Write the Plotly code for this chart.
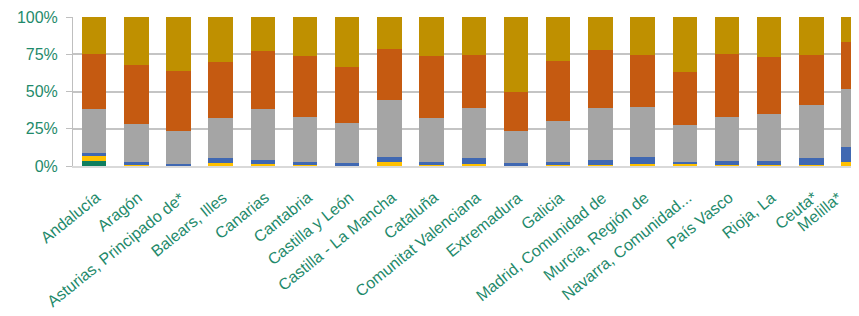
import plotly.graph_objects as go

categories = ["Andalucía", "Aragón", "Asturias, Principado de*", "Balears, Illes", "Canarias",
              "Cantabria", "Castilla y León", "Castilla - La Mancha", "Cataluña",
              "Comunitat Valenciana", "Extremadura", "Galicia", "Madrid, Comunidad de",
              "Murcia, Región de", "Navarra, Comunidad...", "País Vasco", "Rioja, La",
              "Ceuta*", "Melilla*"]

s_green = [3.4, 0, 0, 0, 0, 0, 0, 0, 0, 0, 0, 0, 0, 0, 0, 0, 0, 0, 0]
s_yellow = [3.3, 1.0, 0.3, 2.0, 1.3, 0.9, 0.3, 2.4, 1.0, 1.5, 0.3, 1.0, 1.0, 1.6, 1.4, 1.0, 1.0, 1.0, 2.5]
s_blue = [2.1, 1.5, 1.0, 3.4, 2.5, 2.0, 1.5, 3.6, 1.4, 3.8, 1.5, 2.0, 2.8, 4.4, 1.6, 2.1, 2.1, 4.4, 10.1]
s_gray = [29.2, 25.5, 22.4, 27.0, 34.6, 30.0, 27.0, 38.0, 30.0, 33.9, 21.6, 27.1, 34.9, 33.3, 24.3, 29.9, 32.0, 35.3, 38.9]
s_orange = [37.3, 39.5, 39.6, 37.5, 38.5, 41.0, 37.7, 34.7, 41.5, 35.3, 26.3, 40.5, 39.3, 35.3, 35.5, 42.3, 38.2, 33.9, 31.4]
s_gold = [24.7, 32.5, 36.4, 30.1, 23.1, 26.1, 33.5, 21.3, 26.1, 25.5, 50.3, 29.4, 22.0, 25.4, 37.1, 24.7, 26.7, 25.4, 17.1]

series = [
    ("s1", s_green, "#0F7E5E"),
    ("s2", s_yellow, "#FFC000"),
    ("s3", s_blue, "#4068B2"),
    ("s4", s_gray, "#A5A5A5"),
    ("s5", s_orange, "#C55A11"),
    ("s6", s_gold, "#BF9000"),
]

fig = go.Figure()
for name, vals, col in series:
    fig.add_trace(go.Bar(x=categories, y=vals, name=name, marker=dict(color=col, line=dict(width=0))))

text_col = "#1F8A6B"
font_family = "Liberation Sans, Arial, sans-serif"

# category labels as rotated annotations (so the last one can be nudged inside, like the original)
for i, cat in enumerate(categories):
    fig.add_annotation(
        x=cat, y=0, xref="x", yref="paper",
        text=cat, showarrow=False, textangle=-39,
        xanchor="right", yanchor="top",
        xshift=(-5 if i == len(categories) - 1 else 12), yshift=-20,
        font=dict(family=font_family, size=16, color=text_col),
    )

# the page body keeps an 8px margin, so the figure is 8px smaller than the window
fig.update_layout(
    barmode="stack",
    barnorm="percent",
    bargap=0.42,
    width=851, height=308,
    margin=dict(l=65, r=0, t=9, b=150),
    paper_bgcolor="white", plot_bgcolor="white",
    showlegend=False,
    font=dict(family=font_family, size=16, color=text_col),
)
fig.update_xaxes(
    range=[-0.5, 18.13],
    showticklabels=False,
    showline=True, linecolor="#D9D9D9", linewidth=2,
    ticks="", showgrid=False, automargin=False,
)
fig.update_yaxes(
    range=[0, 100],
    tickvals=[0, 25, 50, 75, 100],
    ticktext=["0%", "25%", "50%", "75%", "100%"],
    tickfont=dict(size=16, color=text_col),
    showgrid=True, gridcolor="#C4C4C4", gridwidth=2,
    showline=True, linecolor="#BFBFBF", linewidth=1,
    ticks="outside", ticklen=6, tickcolor="#BFBFBF",
    ticklabelstandoff=5, automargin=False,
    zeroline=False,
)
fig.write_html("out.html")
